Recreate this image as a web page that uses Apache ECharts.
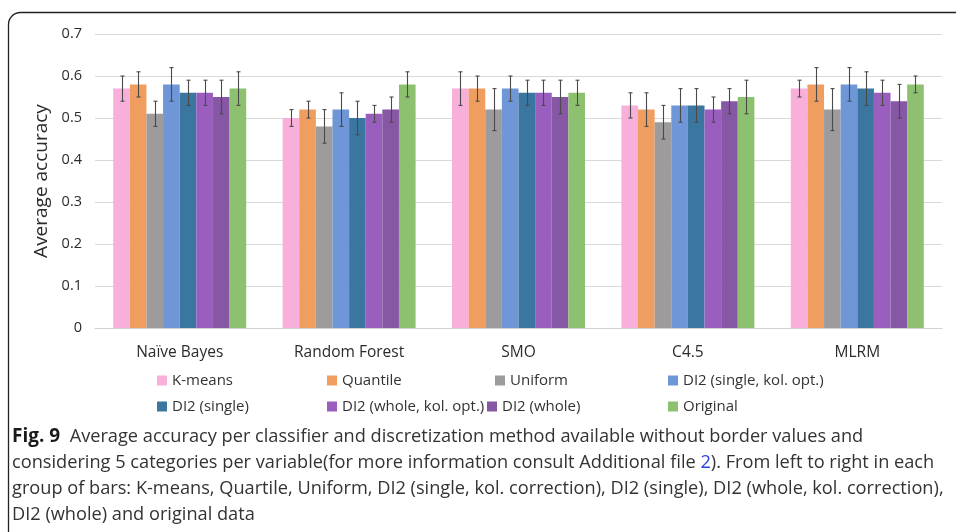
<!DOCTYPE html>
<html>
<head>
<meta charset="utf-8">
<script src="https://cdn.jsdelivr.net/npm/echarts@6/dist/echarts.min.js"></script>
<style>
  html, body { margin: 0; padding: 0; background: #fff; }
  #chart { width: 956px; height: 532px; }
</style>
</head>
<body>
<div id="chart"></div>
<script>
// Classifiers on the x axis
var classifiers = ['Naïve Bayes', 'Random Forest', 'SMO', 'C4.5', 'MLRM'];

// Discretization methods (one bar per method within each classifier group)
var methods = ['K-means', 'Quantile', 'Uniform', 'DI2 (single, kol. opt.)',
               'DI2 (single)', 'DI2 (whole, kol. opt.)', 'DI2 (whole)', 'Original'];

// Average accuracy per method, in classifier order
var kmeans      = [0.57, 0.50, 0.57, 0.53, 0.57];
var quantile    = [0.58, 0.52, 0.57, 0.52, 0.58];
var uniform     = [0.51, 0.48, 0.52, 0.49, 0.52];
var di2SingleKo = [0.58, 0.52, 0.57, 0.53, 0.58];
var di2Single   = [0.56, 0.50, 0.56, 0.53, 0.57];
var di2WholeKo  = [0.56, 0.51, 0.56, 0.52, 0.56];
var di2Whole    = [0.55, 0.52, 0.55, 0.54, 0.54];
var original    = [0.57, 0.58, 0.56, 0.55, 0.58];

// Standard deviations (half-length of each error bar)
var kmeansSd      = [0.03, 0.02, 0.04, 0.03, 0.02];
var quantileSd    = [0.03, 0.02, 0.03, 0.04, 0.04];
var uniformSd     = [0.03, 0.04, 0.05, 0.04, 0.05];
var di2SingleKoSd = [0.04, 0.04, 0.03, 0.04, 0.04];
var di2SingleSd   = [0.03, 0.04, 0.03, 0.04, 0.04];
var di2WholeKoSd  = [0.03, 0.02, 0.03, 0.03, 0.03];
var di2WholeSd    = [0.04, 0.03, 0.04, 0.03, 0.04];
var originalSd    = [0.04, 0.03, 0.03, 0.04, 0.02];

// Y axis ticks
var yMin = 0, yMax = 0.7, yStep = 0.1;

var values = [kmeans, quantile, uniform, di2SingleKo, di2Single, di2WholeKo, di2Whole, original];
var errors = [kmeansSd, quantileSd, uniformSd, di2SingleKoSd, di2SingleSd, di2WholeKoSd, di2WholeSd, originalSd];
var colors = ['#F8AFD9', '#EF9E60', '#9D9B9C', '#6F96D7', '#3B76A1', '#9A5EBE', '#8657A4', '#8DC170'];

var categoryGap = 0.215;
var nSeries = methods.length;

var chart = echarts.init(document.getElementById('chart'));

var series = [];
values.forEach(function (vals, i) {
  series.push({
    name: methods[i],
    type: 'bar',
    data: vals,
    barGap: '0%',
    barCategoryGap: (categoryGap * 100) + '%',
    itemStyle: { color: colors[i] },
    z: 2
  });
});

// Error bars, placed over the matching bar of each group
values.forEach(function (vals, i) {
  var errData = vals.map(function (v, k) { return [k, v, errors[i][k]]; });
  series.push({
    type: 'custom',
    data: errData,
    z: 5,
    silent: true,
    renderItem: function (params, api) {
      var k = api.value(0), v = api.value(1), e = api.value(2);
      var band = api.size([1, 0])[0];
      var bw = band * (1 - categoryGap) / nSeries;
      var offset = (i - (nSeries - 1) / 2) * bw;
      var top = api.coord([k, v + e]);
      var bot = api.coord([k, v - e]);
      var x = Math.round(top[0] + offset) + 0.5;
      var cap = 2;
      var style = { stroke: '#4a4a4a', lineWidth: 1.1 };
      return {
        type: 'group',
        children: [
          { type: 'line', shape: { x1: x, y1: top[1], x2: x, y2: bot[1] }, style: style },
          { type: 'line', shape: { x1: x - cap, y1: top[1], x2: x + cap, y2: top[1] }, style: style },
          { type: 'line', shape: { x1: x - cap, y1: bot[1], x2: x + cap, y2: bot[1] }, style: style }
        ]
      };
    }
  });
});

// Legend laid out in two rows, one component per entry
var legendPos = [
  [157, 373], [327, 373], [495, 373], [668, 373],
  [157, 399], [327, 399], [487, 399], [668, 399]
];
var legends = methods.map(function (m, i) {
  return {
    data: [m],
    left: legendPos[i][0],
    top: legendPos[i][1],
    icon: 'rect',
    itemWidth: 10,
    itemHeight: 10,
    itemGap: 0,
    padding: 0,
    selectedMode: false,
    textStyle: { fontFamily: 'Open Sans', fontSize: 15, color: '#333', padding: [0, 0, 0, 0] }
  };
});

var captionFont = 'Open Sans';
var captionSize = 18.2;
function captionLine(y, text, rich) {
  return {
    type: 'text', x: 12, y: y,
    style: {
      text: text,
      fontFamily: captionFont, fontSize: captionSize, fill: '#333',
      verticalAlign: 'middle',
      rich: rich || {}
    }
  };
}

chart.setOption({
  animation: false,
  backgroundColor: '#fff',
  grid: { left: 95, right: 14, top: 34, bottom: 204 },
  legend: legends,
  xAxis: {
    type: 'category',
    data: classifiers,
    axisLine: { lineStyle: { color: '#d0d0d0' } },
    axisTick: { show: false },
    axisLabel: { fontFamily: 'Open Sans', fontSize: 15.5, color: '#2b2b2b', margin: 17 }
  },
  yAxis: {
    type: 'value',
    min: yMin, max: yMax, interval: yStep,
    name: 'Average accuracy',
    nameLocation: 'middle',
    nameGap: 38,
    nameTextStyle: { fontFamily: 'Open Sans', fontSize: 19, color: '#2b2b2b' },
    axisLine: { show: false },
    axisTick: { show: false },
    axisLabel: { fontFamily: 'Open Sans', fontSize: 14.5, color: '#2b2b2b', margin: 13 },
    splitLine: { lineStyle: { color: '#d9d9d9' } }
  },
  series: series,
  graphic: [
    {
      type: 'rect',
      shape: { x: 8.5, y: 12.5, width: 1000, height: 600, r: [12, 0, 0, 0] },
      style: { fill: null, stroke: '#222', lineWidth: 1.3 },
      silent: true
    },
    captionLine(437, '{b|Fig. 9}  Average accuracy per classifier and discretization method available without border values and',
      { b: { fontFamily: captionFont, fontSize: 19, fontWeight: 'bold', fill: '#1a1a1a' } }),
    captionLine(463, 'considering 5 categories per variable(for more information consult Additional file {l|2}). From left to right in each',
      { l: { fontFamily: captionFont, fontSize: captionSize, fill: '#2a3ee8' } }),
    captionLine(489, 'group of bars: K-means, Quartile, Uniform, DI2 (single, kol. correction), DI2 (single), DI2 (whole, kol. correction),'),
    captionLine(515, 'DI2 (whole) and original data')
  ]
});
</script>
</body>
</html>
